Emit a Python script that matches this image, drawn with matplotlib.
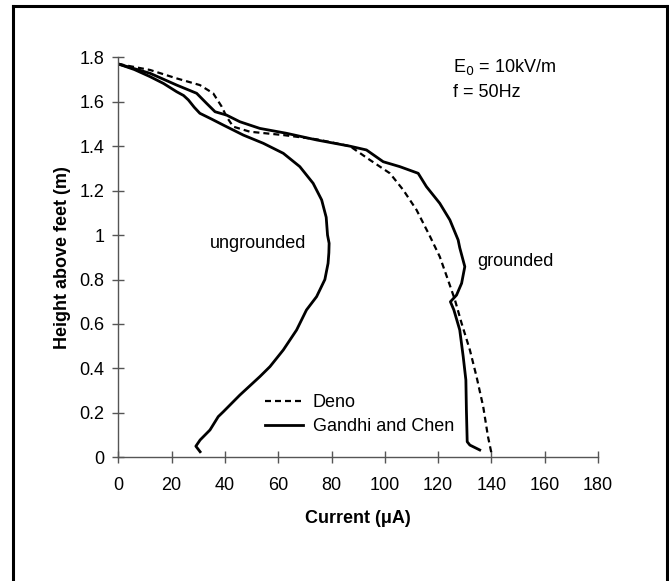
import numpy as np
import matplotlib.pyplot as plt
from matplotlib.lines import Line2D

plt.rcParams['font.family'] = ['Liberation Sans', 'DejaVu Sans']

# ungrounded body, Gandhi and Chen
ungr_x = [0, 6.0, 11.9, 17.0, 21.9, 24.5, 26.3, 28.5, 30.6, 35.0, 39.4, 46.9, 54.4,
          61.9, 68.1, 73.1, 76.3, 78.0, 78.5, 79.1, 79.0, 78.7, 77.5, 74.4, 70.6,
          66.9, 61.9, 56.9, 53.1, 45.6, 39.4, 37.5, 34.4, 30.7, 29.1, 30.7]
ungr_y = [1.77, 1.745, 1.713, 1.682, 1.645, 1.628, 1.608, 1.575, 1.548, 1.522, 1.495,
          1.45, 1.413, 1.368, 1.308, 1.233, 1.158, 1.08, 1.0, 0.963, 0.92, 0.873, 0.80,
          0.723, 0.663, 0.573, 0.483, 0.408, 0.363, 0.28, 0.205, 0.183, 0.123, 0.078,
          0.05, 0.025]

# grounded body, Gandhi and Chen
gr_x = [0, 11.9, 21.9, 29.4, 33.1, 36.3, 40.6, 45.6, 53.1, 63.1, 74.4, 86.9, 93.1,
        99.4, 105.6, 112.5, 115.6, 120.6, 124.4, 127.5, 128.1, 130.0, 128.8, 126.9,
        124.6, 125.9, 128.1, 129.4, 130.4, 130.6, 130.9, 131.9, 135.6]
gr_y = [1.77, 1.728, 1.675, 1.638, 1.593, 1.555, 1.54, 1.51, 1.48, 1.458, 1.428, 1.40,
        1.383, 1.33, 1.308, 1.278, 1.218, 1.143, 1.068, 0.978, 0.943, 0.858, 0.783,
        0.73, 0.70, 0.663, 0.573, 0.453, 0.348, 0.213, 0.07, 0.055, 0.033]

# grounded body, Deno
deno_x = [0, 11.9, 21.9, 30.6, 35.6, 38.8, 40.6, 43.1, 49.4, 61.9, 74.4, 86.9, 94.4,
          101.9, 106.9, 111.9, 116.9, 120.6, 123.7, 126.3, 128.8, 131.9, 134.4, 136.9,
          138.7, 140.0]
deno_y = [1.77, 1.743, 1.705, 1.675, 1.638, 1.578, 1.533, 1.488, 1.465, 1.45, 1.431,
          1.40, 1.338, 1.278, 1.203, 1.113, 0.995, 0.903, 0.798, 0.708, 0.603, 0.483,
          0.363, 0.228, 0.093, 0.018]

xticks = np.arange(0, 181, 20)
yticks = [0, 0.2, 0.4, 0.6, 0.8, 1, 1.2, 1.4, 1.6, 1.8]
ytick_labels = ['0', '0.2', '0.4', '0.6', '0.8', '1', '1.2', '1.4', '1.6', '1.8']

fig = plt.figure(figsize=(6.69, 5.81), dpi=100)
ax = fig.add_axes([0.1768, 0.2129, 0.7172, 0.6885])

ax.plot(deno_x, deno_y, color='black', lw=1.6, linestyle=(0, (2.7, 1.8)), label='Deno')
ax.plot(gr_x, gr_y, color='black', lw=2.0, label='Gandhi and Chen')
ax.plot(ungr_x, ungr_y, color='black', lw=2.0)

ax.set_xlim(0, 180)
ax.set_ylim(0, 1.8)
ax.set_xticks(xticks)
ax.set_yticks(yticks)
ax.set_yticklabels(ytick_labels)
for s in ['top', 'right']:
    ax.spines[s].set_visible(False)
for s in ['left', 'bottom']:
    ax.spines[s].set_color('#555555')
    ax.spines[s].set_linewidth(1.0)
ax.tick_params(direction='inout', length=8, width=1.0, color='#555555',
               labelsize=13)
ax.tick_params(axis='x', pad=10)
ax.tick_params(axis='y', pad=6)

ax.set_xlabel('Current (\u03bcA)', fontsize=13, fontweight='bold', labelpad=12)
ax.set_ylabel('Height above feet (m)', fontsize=13, fontweight='bold', labelpad=6)

ax.text(0.698, 0.976, 'E$_0$ = 10kV/m', transform=ax.transAxes, fontsize=13,
        va='center', ha='left')
ax.text(0.698, 0.913, 'f = 50Hz', transform=ax.transAxes, fontsize=13,
        va='center', ha='left')
ax.text(52.4, 0.964, 'ungrounded', fontsize=13, ha='center', va='center')
ax.text(149.1, 0.879, 'grounded', fontsize=13, ha='center', va='center')

ax.legend(loc='upper left', bbox_to_anchor=(0.306, 0.158), frameon=False,
          fontsize=13, handlelength=2.1, handletextpad=0.55, borderpad=0,
          borderaxespad=0, labelspacing=0.4)

# frame round the figure (no bottom edge)
W, H = 669, 581
fig.add_artist(Line2D([13 / W, 13 / W], [0, 1 - 6 / H], color='black', lw=2.2))
fig.add_artist(Line2D([13 / W, 667 / W], [1 - 6 / H, 1 - 6 / H], color='black', lw=2.2))
fig.add_artist(Line2D([667 / W, 667 / W], [0, 1 - 6 / H], color='black', lw=2.2))

fig.savefig('out.png', dpi=100)
